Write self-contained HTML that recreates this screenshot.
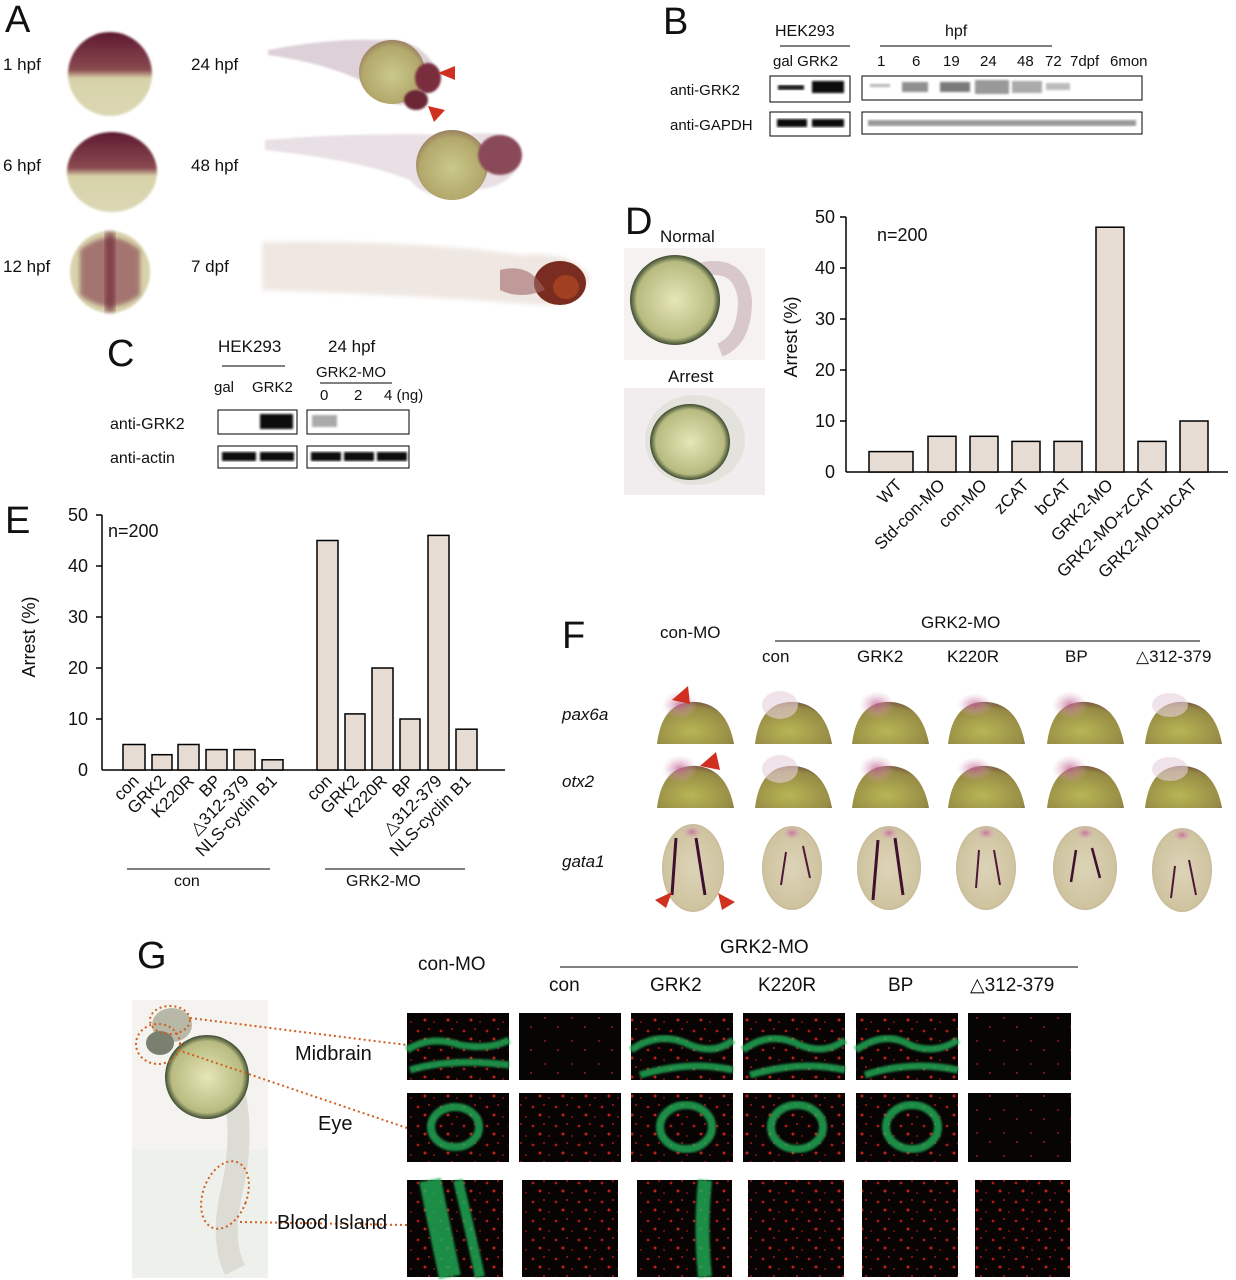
<!DOCTYPE html>
<html><head><meta charset="utf-8"><style>
html,body{margin:0;padding:0;background:#fff;width:1236px;height:1280px;overflow:hidden}
svg{display:block}
text{font-family:"Liberation Sans",Arial,sans-serif;fill:#111}
</style></head><body>
<svg width="1236" height="1280" viewBox="0 0 1236 1280" xmlns="http://www.w3.org/2000/svg">
<defs>
<radialGradient id="yolk" cx="50%" cy="55%" r="55%"><stop offset="0" stop-color="#c9c98a"/><stop offset="0.8" stop-color="#b3a86c"/><stop offset="1" stop-color="#9a8060"/></radialGradient>
<radialGradient id="yolk2" cx="45%" cy="70%" r="70%"><stop offset="0" stop-color="#b7b655"/><stop offset="0.8" stop-color="#968a45"/><stop offset="1" stop-color="#7a5a40"/></radialGradient>
<radialGradient id="gat" cx="50%" cy="50%" r="55%"><stop offset="0" stop-color="#ddd4b8"/><stop offset="0.85" stop-color="#cfc4a0"/><stop offset="1" stop-color="#b9a890"/></radialGradient>
<radialGradient id="pink" cx="50%" cy="50%" r="50%"><stop offset="0" stop-color="#c06090" stop-opacity="0.8"/><stop offset="1" stop-color="#e0b0c8" stop-opacity="0"/></radialGradient>
<linearGradient id="cap" x1="0" y1="0" x2="0" y2="1"><stop offset="0" stop-color="#5e1a30"/><stop offset="0.45" stop-color="#8a4a50"/><stop offset="0.55" stop-color="#d7d2a8"/><stop offset="1" stop-color="#dcd8b4"/></linearGradient>
<radialGradient id="wt" cx="50%" cy="50%" r="50%"><stop offset="0" stop-color="#e6e6b8"/><stop offset="0.85" stop-color="#b8bb80"/><stop offset="1" stop-color="#3c4a30"/></radialGradient>
<pattern id="red" width="23" height="19" patternUnits="userSpaceOnUse"><rect width="23" height="19" fill="#080404"/><circle cx="4" cy="5" r="1.4" fill="#b01818"/><circle cx="15" cy="3" r="1.1" fill="#901515"/><circle cx="11" cy="13" r="1.5" fill="#c02018"/><circle cx="20" cy="15" r="1" fill="#801212"/></pattern>
<pattern id="redl" width="27" height="23" patternUnits="userSpaceOnUse"><rect width="27" height="23" fill="#070404"/><circle cx="5" cy="6" r="1.1" fill="#701515"/><circle cx="18" cy="15" r="1.1" fill="#801818"/></pattern>
<filter id="bl"><feGaussianBlur stdDeviation="2"/></filter>
<filter id="bl1"><feGaussianBlur stdDeviation="1"/></filter>
</defs>

<!-- Panel A -->
<text x="5" y="32" font-size="38">A</text>
<text x="3" y="70" font-size="17">1 hpf</text>
<text x="3" y="171" font-size="17">6 hpf</text>
<text x="3" y="272" font-size="17">12 hpf</text>
<text x="191" y="70" font-size="17">24 hpf</text>
<text x="191" y="171" font-size="17">48 hpf</text>
<text x="191" y="272" font-size="17">7 dpf</text>
<ellipse cx="110" cy="74" rx="42" ry="42" fill="url(#cap)" filter="url(#bl1)"/>
<ellipse cx="112" cy="172" rx="45" ry="40" fill="url(#cap)" filter="url(#bl1)"/>
<ellipse cx="110" cy="272" rx="40" ry="41" fill="#d8d3ac" filter="url(#bl1)"/>
<path d="M80 250 Q110 225 140 250 L140 295 Q110 318 80 295Z" fill="#7a2a40" opacity="0.55" filter="url(#bl)"/>
<rect x="105" y="232" width="10" height="80" fill="#6b2035" opacity="0.6" filter="url(#bl)"/>
<path d="M268 50 Q330 38 380 40 Q420 35 440 75 Q430 100 400 105 Q370 100 360 80 Q320 62 268 55Z" fill="#ddd0d8" filter="url(#bl1)"/>
<ellipse cx="392" cy="72" rx="33" ry="32" fill="url(#yolk)"/>
<ellipse cx="428" cy="78" rx="13" ry="15" fill="#7a2e3e" filter="url(#bl1)"/>
<ellipse cx="416" cy="100" rx="12" ry="10" fill="#6a2634" filter="url(#bl1)"/>
<polygon points="438,73 455,66 455,80" fill="#d03020"/>
<polygon points="428,106 445,110 434,122" fill="#d03020"/>
<path d="M265 140 Q360 132 460 135 Q530 125 520 165 Q505 190 470 190 Q430 205 410 180 Q360 160 265 150Z" fill="#e8e0e4" filter="url(#bl1)"/>
<ellipse cx="452" cy="165" rx="36" ry="35" fill="url(#yolk)"/>
<ellipse cx="500" cy="155" rx="22" ry="20" fill="#8a4858" filter="url(#bl1)"/>
<path d="M262 242 Q420 240 520 255 Q575 250 590 278 Q580 305 540 305 Q420 295 262 290Z" fill="#efe7e2" filter="url(#bl)"/>
<ellipse cx="560" cy="283" rx="26" ry="22" fill="#7a2c20"/>
<ellipse cx="566" cy="287" rx="13" ry="12" fill="#a04020"/>
<path d="M500 270 Q530 262 545 290 Q520 300 500 290Z" fill="#a06868" opacity="0.6"/>

<!-- Panel B -->
<text x="663" y="34" font-size="38">B</text>
<text x="775" y="36" font-size="16">HEK293</text>
<line x1="780" y1="46" x2="850" y2="46" stroke="#000"/>
<text x="945" y="36" font-size="16">hpf</text>
<line x1="880" y1="46" x2="1052" y2="46" stroke="#000"/>
<text x="773" y="66" font-size="15">gal GRK2</text>
<g font-size="15"><text x="877" y="66">1</text><text x="912" y="66">6</text><text x="943" y="66">19</text><text x="980" y="66">24</text><text x="1017" y="66">48</text><text x="1045" y="66">72</text><text x="1070" y="66">7dpf</text><text x="1110" y="66">6mon</text></g>
<text x="670" y="95" font-size="15">anti-GRK2</text>
<text x="670" y="130" font-size="15">anti-GAPDH</text>
<rect x="770" y="76" width="80" height="26" fill="#fff" stroke="#000"/>
<rect x="778" y="85" width="26" height="5" fill="#222" filter="url(#bl1)"/>
<rect x="812" y="81" width="32" height="12" fill="#111" filter="url(#bl1)"/>
<rect x="862" y="76" width="280" height="24" fill="#fff" stroke="#000"/>
<g fill="#444" filter="url(#bl1)"><rect x="870" y="84" width="20" height="3" opacity="0.4"/><rect x="902" y="82" width="26" height="10" opacity="0.6"/><rect x="940" y="82" width="30" height="10" opacity="0.7"/><rect x="975" y="80" width="34" height="14" fill="#999"/><rect x="1012" y="81" width="30" height="12" fill="#aaa"/><rect x="1046" y="83" width="24" height="7" fill="#bbb"/></g>
<rect x="770" y="112" width="80" height="24" fill="#fff" stroke="#000"/>
<rect x="777" y="119" width="30" height="8" fill="#111" filter="url(#bl1)"/><rect x="812" y="119" width="32" height="8" fill="#111" filter="url(#bl1)"/>
<rect x="862" y="112" width="280" height="22" fill="#fff" stroke="#000"/>
<rect x="868" y="120" width="268" height="6" fill="#999" filter="url(#bl1)"/>

<!-- Panel C -->
<text x="107" y="366" font-size="38">C</text>
<text x="218" y="352" font-size="17">HEK293</text>
<line x1="222" y1="366" x2="285" y2="366" stroke="#000"/>
<text x="328" y="352" font-size="17">24 hpf</text>
<text x="316" y="377" font-size="15">GRK2-MO</text>
<line x1="320" y1="383" x2="392" y2="383" stroke="#000"/>
<text x="214" y="392" font-size="15">gal</text><text x="252" y="392" font-size="15">GRK2</text>
<text x="320" y="400" font-size="15">0</text><text x="354" y="400" font-size="15">2</text><text x="384" y="400" font-size="15">4 (ng)</text>
<text x="110" y="429" font-size="16">anti-GRK2</text>
<text x="110" y="463" font-size="16">anti-actin</text>
<rect x="218" y="410" width="79" height="24" fill="#fff" stroke="#000"/>
<rect x="260" y="414" width="33" height="15" fill="#111" filter="url(#bl1)"/>
<rect x="307" y="410" width="102" height="24" fill="#fff" stroke="#000"/>
<rect x="312" y="415" width="25" height="12" fill="#aaa" filter="url(#bl1)"/>
<rect x="218" y="446" width="79" height="22" fill="#fff" stroke="#000"/>
<rect x="222" y="452" width="34" height="9" fill="#111" filter="url(#bl1)"/><rect x="260" y="452" width="34" height="9" fill="#111" filter="url(#bl1)"/>
<rect x="307" y="446" width="102" height="22" fill="#fff" stroke="#000"/>
<rect x="311" y="452" width="30" height="9" fill="#111" filter="url(#bl1)"/><rect x="344" y="452" width="30" height="9" fill="#111" filter="url(#bl1)"/><rect x="377" y="452" width="30" height="9" fill="#111" filter="url(#bl1)"/>

<!-- Panel D -->
<text x="625" y="234" font-size="38">D</text>
<text x="660" y="242" font-size="17">Normal</text>
<rect x="624" y="248" width="141" height="112" fill="#f6f2f2"/>
<path d="M700 270 Q740 260 745 300 Q745 340 720 350" stroke="#d8c8cc" stroke-width="14" fill="none"/>
<ellipse cx="675" cy="300" rx="45" ry="45" fill="url(#wt)"/>
<text x="668" y="382" font-size="17">Arrest</text>
<rect x="624" y="388" width="141" height="107" fill="#f1ecee"/>
<ellipse cx="695" cy="440" rx="50" ry="45" fill="#dcdcd0" opacity="0.6"/>
<ellipse cx="690" cy="442" rx="40" ry="38" fill="url(#wt)"/>
<text x="877" y="241" font-size="18">n=200</text>
<text transform="translate(797,337) rotate(-90)" font-size="18" text-anchor="middle">Arrest (%)</text>
<g font-size="18" text-anchor="end"><text x="835" y="223">50</text><text x="835" y="274">40</text><text x="835" y="325">30</text><text x="835" y="376">20</text><text x="835" y="427">10</text><text x="835" y="478">0</text></g>
<g stroke="#000" stroke-width="1.5"><line x1="846" y1="217" x2="846" y2="472"/><line x1="846" y1="472" x2="1228" y2="472"/>
<line x1="840" y1="217" x2="846" y2="217"/><line x1="840" y1="268" x2="846" y2="268"/><line x1="840" y1="319" x2="846" y2="319"/><line x1="840" y1="370" x2="846" y2="370"/><line x1="840" y1="421" x2="846" y2="421"/></g>
<g fill="#e6dcd4" stroke="#000" stroke-width="1.5">
<rect x="869" y="451.6" width="44" height="20.4"/><rect x="928" y="436.3" width="28" height="35.7"/><rect x="970" y="436.3" width="28" height="35.7"/><rect x="1012" y="441.4" width="28" height="30.6"/><rect x="1054" y="441.4" width="28" height="30.6"/><rect x="1096" y="227.2" width="28" height="244.8"/><rect x="1138" y="441.4" width="28" height="30.6"/><rect x="1180" y="421" width="28" height="51"/></g>
<g font-size="17" text-anchor="end">
<text transform="translate(903,486) rotate(-45)">WT</text>
<text transform="translate(946,486) rotate(-45)">Std-con-MO</text>
<text transform="translate(988,486) rotate(-45)">con-MO</text>
<text transform="translate(1030,486) rotate(-45)">zCAT</text>
<text transform="translate(1072,486) rotate(-45)">bCAT</text>
<text transform="translate(1114,486) rotate(-45)">GRK2-MO</text>
<text transform="translate(1156,486) rotate(-45)">GRK2-MO+zCAT</text>
<text transform="translate(1198,486) rotate(-45)">GRK2-MO+bCAT</text></g>
<rect x="1000" y="585" width="236" height="30" fill="#fff"/>

<!-- Panel E -->
<text x="5" y="533" font-size="38">E</text>
<text x="108" y="537" font-size="18">n=200</text>
<text transform="translate(35,637) rotate(-90)" font-size="18" text-anchor="middle">Arrest (%)</text>
<g font-size="18" text-anchor="end"><text x="88" y="521">50</text><text x="88" y="572">40</text><text x="88" y="623">30</text><text x="88" y="674">20</text><text x="88" y="725">10</text><text x="88" y="776">0</text></g>
<g stroke="#000" stroke-width="1.5"><line x1="102" y1="515" x2="102" y2="770"/><line x1="102" y1="770" x2="505" y2="770"/>
<line x1="96" y1="515" x2="102" y2="515"/><line x1="96" y1="566" x2="102" y2="566"/><line x1="96" y1="617" x2="102" y2="617"/><line x1="96" y1="668" x2="102" y2="668"/><line x1="96" y1="719" x2="102" y2="719"/></g>
<g fill="#e6dcd4" stroke="#000" stroke-width="1.5">
<rect x="123" y="744.5" width="22" height="25.5"/><rect x="152" y="754.7" width="20" height="15.3"/><rect x="178" y="744.5" width="21" height="25.5"/><rect x="206" y="749.6" width="21" height="20.4"/><rect x="234" y="749.6" width="21" height="20.4"/><rect x="262" y="759.8" width="21" height="10.2"/>
<rect x="317" y="540.5" width="21" height="229.5"/><rect x="345" y="713.9" width="20" height="56.1"/><rect x="372" y="668" width="21" height="102"/><rect x="400" y="719" width="20" height="51"/><rect x="428" y="535.4" width="21" height="234.6"/><rect x="456" y="729.2" width="21" height="40.8"/></g>
<g font-size="17" text-anchor="end">
<text transform="translate(140,782) rotate(-45)">con</text><text transform="translate(167,782) rotate(-45)">GRK2</text><text transform="translate(195,782) rotate(-45)">K220R</text><text transform="translate(222,782) rotate(-45)">BP</text><text transform="translate(250,782) rotate(-45)">△312-379</text><text transform="translate(278,782) rotate(-45)">NLS-cyclin B1</text>
<text transform="translate(333,782) rotate(-45)">con</text><text transform="translate(360,782) rotate(-45)">GRK2</text><text transform="translate(388,782) rotate(-45)">K220R</text><text transform="translate(415,782) rotate(-45)">BP</text><text transform="translate(443,782) rotate(-45)">△312-379</text><text transform="translate(472,782) rotate(-45)">NLS-cyclin B1</text></g>
<line x1="127" y1="869" x2="270" y2="869" stroke="#000"/><text x="174" y="886" font-size="16">con</text>
<line x1="325" y1="869" x2="465" y2="869" stroke="#000"/><text x="346" y="886" font-size="16">GRK2-MO</text>

<!-- Panel F -->
<text x="562" y="648" font-size="38">F</text>
<text x="660" y="638" font-size="17">con-MO</text>
<text x="921" y="628" font-size="17">GRK2-MO</text>
<line x1="775" y1="641" x2="1200" y2="641" stroke="#000"/>
<g font-size="17"><text x="762" y="662">con</text><text x="857" y="662">GRK2</text><text x="947" y="662">K220R</text><text x="1065" y="662">BP</text><text x="1136" y="662">△312-379</text></g>
<g font-size="17" font-style="italic"><text x="562" y="720">pax6a</text><text x="562" y="787">otx2</text><text x="562" y="867">gata1</text></g>
<g id="prow">
<g transform="translate(652,0)"><path d="M5 744 Q10 700 45 702 Q75 705 82 744Z" fill="url(#yolk2)"/><ellipse cx="28" cy="705" rx="18" ry="14" fill="url(#pink)"/></g>
<g transform="translate(750,0)"><path d="M5 744 Q10 700 45 702 Q75 705 82 744Z" fill="url(#yolk2)"/><ellipse cx="30" cy="705" rx="18" ry="14" fill="#e8d0dc" opacity="0.6"/></g>
<g transform="translate(847,0)"><path d="M5 744 Q10 700 45 702 Q75 705 82 744Z" fill="url(#yolk2)"/><ellipse cx="30" cy="705" rx="18" ry="14" fill="url(#pink)"/></g>
<g transform="translate(943,0)"><path d="M5 744 Q10 700 45 702 Q75 705 82 744Z" fill="url(#yolk2)"/><ellipse cx="32" cy="705" rx="18" ry="12" fill="url(#pink)"/></g>
<g transform="translate(1042,0)"><path d="M5 744 Q10 700 45 702 Q75 705 82 744Z" fill="url(#yolk2)"/><ellipse cx="28" cy="705" rx="18" ry="14" fill="url(#pink)"/></g>
<g transform="translate(1140,0)"><path d="M5 744 Q10 700 45 702 Q75 705 82 744Z" fill="url(#yolk2)"/><ellipse cx="30" cy="705" rx="18" ry="12" fill="#e8d0dc" opacity="0.6"/></g>
</g>
<use href="#prow" transform="translate(0,64)"/>
<polygon points="672,700 688,686 690,704" fill="#d03020"/>
<polygon points="700,766 716,752 720,770" fill="#d03020"/>
<g>
<ellipse cx="693" cy="868" rx="31" ry="44" fill="url(#gat)"/><ellipse cx="692" cy="832" rx="10" ry="7" fill="url(#pink)"/>
<path d="M676 838 L672 895 M696 838 L705 895" stroke="#401030" stroke-width="3" fill="none"/>
<ellipse cx="792" cy="868" rx="30" ry="42" fill="url(#gat)"/><ellipse cx="792" cy="833" rx="10" ry="7" fill="url(#pink)"/>
<path d="M786 852 L781 885 M803 846 L810 878" stroke="#501838" stroke-width="2" fill="none"/>
<ellipse cx="889" cy="868" rx="32" ry="42" fill="url(#gat)"/><ellipse cx="889" cy="833" rx="10" ry="7" fill="url(#pink)"/>
<path d="M878 840 L873 900 M895 838 L903 895" stroke="#401030" stroke-width="3" fill="none"/>
<ellipse cx="986" cy="868" rx="30" ry="42" fill="url(#gat)"/><ellipse cx="986" cy="833" rx="10" ry="7" fill="url(#pink)"/>
<path d="M979 850 L976 888 M994 850 L1000 885" stroke="#501838" stroke-width="2" fill="none"/>
<ellipse cx="1085" cy="868" rx="32" ry="42" fill="url(#gat)"/><ellipse cx="1085" cy="833" rx="10" ry="7" fill="url(#pink)"/>
<path d="M1076 850 L1071 882 M1092 848 L1100 878" stroke="#401030" stroke-width="2.5" fill="none"/>
<ellipse cx="1182" cy="870" rx="30" ry="42" fill="url(#gat)"/><ellipse cx="1182" cy="835" rx="10" ry="7" fill="url(#pink)"/>
<path d="M1175 866 L1171 898 M1189 860 L1196 895" stroke="#501838" stroke-width="2" fill="none"/>
</g>
<polygon points="655,900 672,892 666,908" fill="#d03020"/>
<polygon points="718,893 735,902 722,910" fill="#d03020"/>

<!-- Panel G -->
<text x="137" y="968" font-size="38">G</text>
<text x="418" y="970" font-size="19">con-MO</text>
<text x="720" y="953" font-size="19">GRK2-MO</text>
<line x1="560" y1="967" x2="1078" y2="967" stroke="#000"/>
<g font-size="19"><text x="549" y="991">con</text><text x="650" y="991">GRK2</text><text x="758" y="991">K220R</text><text x="888" y="991">BP</text><text x="970" y="991">△312-379</text></g>
<rect x="132" y="1000" width="136" height="278" fill="#f4f3ef"/>
<rect x="132" y="1150" width="136" height="128" fill="#eef0ec"/>
<path d="M225 1060 Q248 1120 232 1190 Q220 1240 235 1270" stroke="#dcdcd4" stroke-width="22" fill="none"/>
<ellipse cx="172" cy="1025" rx="20" ry="17" fill="#b8b8a8"/>
<ellipse cx="160" cy="1043" rx="14" ry="12" fill="#7a8070"/>
<ellipse cx="207" cy="1077" rx="42" ry="42" fill="url(#wt)"/>
<g fill="none" stroke="#d06020" stroke-width="2" stroke-dasharray="2,3">
<ellipse cx="170" cy="1020" rx="20" ry="14"/><ellipse cx="158" cy="1044" rx="22" ry="20"/><ellipse cx="225" cy="1195" rx="22" ry="35" transform="rotate(20 225 1195)"/>
<line x1="190" y1="1018" x2="407" y2="1045"/><line x1="178" y1="1050" x2="407" y2="1128"/><line x1="240" y1="1222" x2="407" y2="1225"/></g>
<g font-size="20"><text x="295" y="1060">Midbrain</text><text x="318" y="1130">Eye</text><text x="277" y="1229">Blood Island</text></g>
<rect x="407" y="1013" width="102" height="67" fill="url(#red)"/><rect x="519" y="1013" width="102" height="67" fill="url(#redl)"/><rect x="631" y="1013" width="102" height="67" fill="url(#red)"/><rect x="743" y="1013" width="102" height="67" fill="url(#red)"/><rect x="856" y="1013" width="102" height="67" fill="url(#red)"/><rect x="968" y="1013" width="103" height="67" fill="url(#redl)"/>
<g fill="none" stroke="#20b058" stroke-width="7" filter="url(#bl1)" opacity="0.8">
<path d="M407 1050 Q430 1035 460 1045 Q490 1050 509 1040 M410 1070 Q450 1058 509 1065"/>
<path d="M631 1050 Q660 1030 690 1045 Q715 1055 733 1040 M640 1075 Q690 1060 733 1070"/>
<path d="M743 1050 Q770 1030 800 1045 Q825 1055 845 1040 M750 1075 Q800 1060 845 1070"/>
<path d="M856 1050 Q885 1030 910 1045 Q935 1055 958 1040 M865 1075 Q910 1060 958 1070"/></g>
<rect x="407" y="1093" width="102" height="69" fill="url(#red)"/><rect x="519" y="1093" width="102" height="69" fill="url(#red)"/><rect x="631" y="1093" width="102" height="69" fill="url(#red)"/><rect x="743" y="1093" width="102" height="69" fill="url(#red)"/><rect x="856" y="1093" width="102" height="69" fill="url(#red)"/><rect x="968" y="1093" width="103" height="69" fill="url(#redl)"/>
<g fill="none" stroke="#20b058" stroke-width="8" filter="url(#bl1)" opacity="0.8">
<ellipse cx="455" cy="1127" rx="24" ry="20"/><ellipse cx="686" cy="1127" rx="26" ry="22"/><ellipse cx="797" cy="1127" rx="26" ry="22"/><ellipse cx="912" cy="1127" rx="26" ry="22"/></g>
<rect x="407" y="1180" width="96" height="97" fill="url(#red)"/><rect x="522" y="1180" width="96" height="97" fill="url(#red)"/><rect x="637" y="1180" width="95" height="97" fill="url(#red)"/><rect x="748" y="1180" width="96" height="97" fill="url(#red)"/><rect x="862" y="1180" width="96" height="97" fill="url(#red)"/><rect x="975" y="1180" width="95" height="97" fill="url(#red)"/>
<g fill="none" stroke="#20b058" filter="url(#bl1)" opacity="0.8">
<path d="M430 1180 Q440 1230 450 1277" stroke-width="22"/><path d="M458 1180 Q470 1230 480 1277" stroke-width="10"/>
<path d="M705 1180 Q700 1230 705 1277" stroke-width="14"/></g>
</svg>
</body></html>
